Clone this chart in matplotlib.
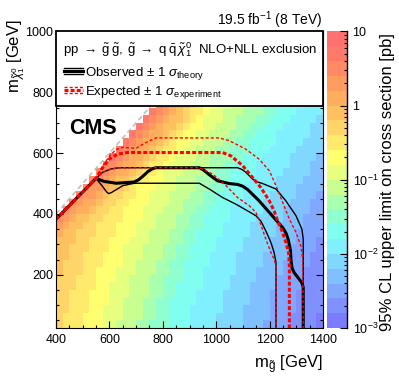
import numpy as np
import matplotlib
matplotlib.use('Agg')
import matplotlib.pyplot as plt
from matplotlib.colors import ListedColormap, LogNorm
from matplotlib.patches import Rectangle
from matplotlib.lines import Line2D

plt.rcParams['font.family'] = ['Liberation Sans', 'DejaVu Sans']
plt.rcParams['mathtext.fontset'] = 'custom'
plt.rcParams['mathtext.rm'] = 'Liberation Sans'
plt.rcParams['mathtext.it'] = 'Liberation Sans:italic'
plt.rcParams['mathtext.bf'] = 'Liberation Sans:bold'
plt.rcParams['mathtext.sf'] = 'Liberation Sans'

# colour bands of the z axis, 5 per decade from 1e-3 to 10 pb
band_colors = ['#7b7bff', '#8090ff', '#80a8ff', '#80c0ff', '#80d8ff',
               '#80f0ff', '#80fff0', '#90ffd0', '#a8ffb0', '#c8ff90',
               '#e6ff7e', '#ffff70', '#ffea6c', '#ffd468', '#ffc060',
               '#ffae5e', '#ff9c60', '#ff8a64', '#ff7a6a', '#ff7070']

# gluino mass bins (400..1400) and LSP mass bins (25..775), 25 GeV wide
mgluino_edges = list(range(400, 1401, 25))
mlsp_edges = list(range(25, 776, 25))

# colour band of each cell (0 = 1e-3 pb ... j = 10 pb), top row first
band_chars = '0123456789abcdefghij'
limit_bands = [
    "...............ihgfedcbbaa99988776666555",
    "..............ihgfedccbaa999888776665555",
    ".............ihgfeedcbaaa998887766655554",
    "............ihgfeedcbbaa9998877666555544",
    "...........ihgffedcbbaa99988776665555544",
    "..........ihgffedcbbaa999887766665555444",
    ".........ihgffedccbaa9998877766655554444",
    "........ihgffedccbaaa9988877666555544443",
    ".......hhgffedccbaaa99988776665555544433",
    "......hhgffedccbaaa999887766665555444433",
    ".....hhgfeedccbbaa9998887766655554444333",
    "....hggfeedcbbbaaa9998877666555554443333",
    "...hggfeddccbbaaa99988776666555544443332",
    "..hgffeddccbbbaaa99888776665555444433322",
    ".hgffeddccbbbaaa999887766655555444333322",
    "hgfeeddcccbbbaa9998877666655554444333222",
    "gfeeddcccbbbaaa9998877666555544443333222",
    "feedddcccbbbaa99988776666555544443332222",
    "eeeddcccbbbaaa99988776665555444433332221",
    "eedddcccbbaaa999887766665555444433322221",
    "eeddcccbbbaaa999887766655554444333322211",
    "edddcccbbbaa9998877666655554444333222211",
    "edddccbbbaaa9998877666555554443333222111",
    "dddcccbbbaa99988777666555544443332222111",
    "dddcccbbaaa99988776666555544433332222111",
    "ddcccbbbaaa99988776665555444433322221111",
    "ddcccbbbaa999887766665555444433322221111",
    "ddcccbbaaa999887766655555444333322221111",
    "dcccbbbaaa999887766655554444333322211110",
    "dcccbbbaa9998877766655554444333222211110",
]

# exclusion contours (m_gluino, m_LSP) in GeV
obs_x = [400, 475, 550, 565, 581, 625, 693, 710, 724, 745, 762, 774, 937, 955, 974, 1005, 1049, 1080, 1100, 1118, 1161, 1205, 1249, 1262, 1270, 1278, 1280, 1284, 1292, 1321, 1326, 1326]
obs_y = [383, 450, 517, 512, 507, 501, 505, 513, 523, 540, 549, 552, 552, 543, 529, 509, 500, 497, 491, 480, 443, 399, 355, 336, 315, 280, 250, 222, 207, 174, 158, 25]
obs_up_x = [400, 550, 575, 606, 637, 1080, 1097, 1111, 1136, 1155, 1174, 1224, 1261, 1299, 1321, 1326, 1326]
obs_up_y = [383, 517, 537, 548, 552, 552, 546, 537, 515, 505, 500, 482, 443, 394, 350, 317, 25]
obs_dn_x = [400, 550, 563, 575, 588, 597, 607, 618, 650, 693, 937, 974, 1024, 1074, 1118, 1149, 1167, 1186, 1205, 1217, 1224, 1224]
obs_dn_y = [383, 517, 503, 490, 474, 467, 470, 476, 493, 501, 501, 482, 454, 432, 410, 394, 377, 344, 306, 273, 240, 25]
exp_x = [400, 550, 575, 600, 631, 668, 1024, 1055, 1099, 1136, 1167, 1199, 1217, 1230, 1249, 1261, 1271, 1274, 1274]
exp_y = [383, 517, 553, 581, 597, 602, 602, 591, 559, 520, 487, 443, 410, 377, 339, 306, 273, 229, 25]
exp_up_x = [400, 550, 575, 600, 625, 650, 700, 737, 774, 1012, 1049, 1111, 1161, 1199, 1224, 1249, 1274, 1299, 1317, 1324, 1326]
exp_up_y = [383, 517, 558, 590, 612, 619, 616, 635, 650, 650, 641, 613, 580, 542, 493, 438, 383, 339, 295, 251, 25]
exp_dn_x = [400, 550, 575, 606, 637, 937, 987, 1037, 1080, 1124, 1149, 1167, 1186, 1205, 1217, 1224, 1224]
exp_dn_y = [383, 517, 537, 548, 552, 552, 531, 493, 454, 427, 405, 366, 317, 273, 251, 229, 25]

# cell values at the middle of each band
Z = np.full((len(mlsp_edges) - 1, len(mgluino_edges) - 1), np.nan)
for j, row in enumerate(limit_bands[::-1]):
    for i, c in enumerate(row):
        if c != '.':
            Z[j, i] = 10 ** (-3 + (band_chars.index(c) + 0.5) / 5)

fig = plt.figure(figsize=(3.99, 3.83), dpi=100)
ax = fig.add_axes([56/399, 1-328/383, 267/399, 296.5/383])
cmap = ListedColormap(band_colors)
norm = LogNorm(1e-3, 10)
mesh = ax.pcolormesh(mgluino_edges, mlsp_edges, np.ma.masked_invalid(Z), cmap=cmap, norm=norm)
ax.plot([400, 1000], [400, 1000], color='#c0c0c0', lw=1.2, ls=(0, (3, 2)))

ax.plot(obs_up_x, obs_up_y, color='k', lw=1.0)
ax.plot(obs_dn_x, obs_dn_y, color='k', lw=1.0)
ax.plot(obs_x, obs_y, color='k', lw=2.2)
ax.plot(exp_up_x, exp_up_y, color='#ff0000', lw=1.0, ls=(0, (2.2, 1.5)))
ax.plot(exp_dn_x, exp_dn_y, color='#ff0000', lw=1.0, ls=(0, (2.2, 1.5)))
ax.plot(exp_x, exp_y, color='#ff0000', lw=2.2, ls=(0, (1.3, 0.7)))

ax.set_xlim(400, 1400)
ax.set_ylim(25, 1000)
ax.set_xticks([400, 600, 800, 1000, 1200, 1400])
ax.set_xticks(np.arange(400, 1401, 50), minor=True)
ax.set_yticks([200, 400, 600, 800, 1000])
ax.set_yticks(np.arange(50, 1001, 50), minor=True)
ax.tick_params(which='both', direction='in', top=True, right=True, labelsize=9, width=0.8)
ax.tick_params(which='major', length=5)
ax.tick_params(which='minor', length=2.5)
ax.tick_params(axis='y', pad=2)
ax.tick_params(axis='x', pad=4)

# legend box
ax.add_patch(Rectangle((0, 0.748), 1, 0.252, transform=ax.transAxes, facecolor='white',
                       edgecolor='black', lw=1.3, zorder=5, clip_on=False))
ax.text(0.026, 0.926,
        r'$\mathrm{pp}\;\rightarrow\;\tilde{\mathrm{g}}\:\tilde{\mathrm{g}},\:\tilde{\mathrm{g}}\;\rightarrow\;\mathrm{q}\:\bar{\mathrm{q}}\:\tilde{\chi}^{0}_{1}$  NLO+NLL exclusion',
        transform=ax.transAxes, fontsize=9.5, va='baseline', zorder=6)
ax.text(0.109, 0.851, r'Observed $\pm$ 1 $\sigma_{\mathrm{theory}}$', transform=ax.transAxes,
        fontsize=9.5, va='baseline', zorder=6)
ax.text(0.109, 0.787, r'Expected $\pm$ 1 $\sigma_{\mathrm{experiment}}$', transform=ax.transAxes,
        fontsize=9.5, va='baseline', zorder=6)
for yy, w in [(0.877, 1.0), (0.867, 2.2), (0.857, 1.0)]:
    ax.add_line(Line2D([0.030, 0.101], [yy, yy], transform=ax.transAxes, color='k', lw=w, zorder=6))
for yy, w, d in [(0.814, 1.0, (2.2, 1.5)), (0.804, 2.2, (1.3, 0.7)), (0.794, 1.0, (2.2, 1.5))]:
    ax.add_line(Line2D([0.030, 0.101], [yy, yy], transform=ax.transAxes, color='#ff0000', lw=w,
                       ls=(0, d), zorder=6))

ax.text(0.049, 0.654, 'CMS', transform=ax.transAxes, fontsize=15.5, fontweight='bold', va='baseline')
fig.text(0.807, 0.935, r'19.5 fb$^{-1}$ (8 TeV)', fontsize=10, ha='right', va='baseline')
fig.text(0.040, 0.853, r'$\mathrm{m}_{\tilde{\chi}^{0}_{1}}$ [GeV]', fontsize=12, rotation=90,
         ha='center', va='center')
fig.text(0.8095, 0.047, r'$\mathrm{m}_{\tilde{\mathrm{g}}}$ [GeV]', fontsize=12, ha='right', va='center')

# colour bar
cax = fig.add_axes([327/399, 1-328/383, 20/399, 296.5/383])
cb = fig.colorbar(mesh, cax=cax)
cb.outline.set_visible(False)
cax.add_line(Line2D([1, 1], [0, 1], transform=cax.transAxes, color='k', lw=1.0, clip_on=False))
cax.tick_params(which='both', direction='in', labelsize=9, width=0.8, pad=4)
cax.tick_params(which='major', length=5)
cax.tick_params(which='minor', length=2.5)
cb.set_ticks([1e-3, 1e-2, 1e-1, 1, 10])
cb.set_ticklabels([r'10$^{-3}$', r'10$^{-2}$', r'10$^{-1}$', '1', '10'])
fig.text(0.972, 0.525, '95% CL upper limit on cross section [pb]', fontsize=12, rotation=90,
         ha='center', va='center')

fig.savefig('out.png', dpi=100)
